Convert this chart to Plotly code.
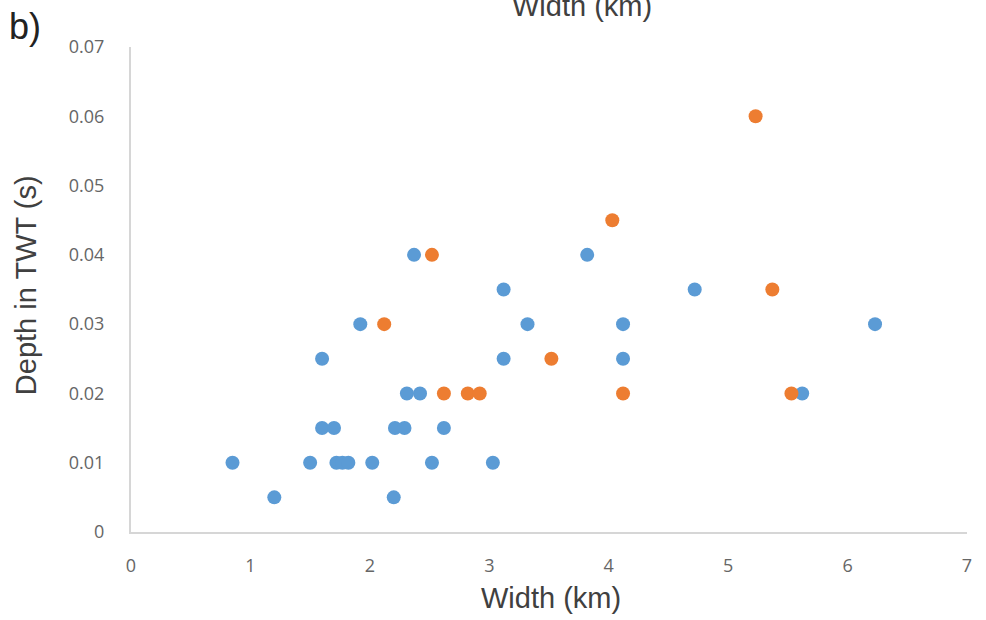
import plotly.graph_objects as go

# Blue series
blue_x = [0.85, 1.2, 1.5, 1.6, 1.6, 1.7, 1.72, 1.77, 1.82, 1.92, 2.02, 2.2, 2.21, 2.29, 2.31,
          2.37, 2.42, 2.52, 2.62, 3.03, 3.12, 3.12, 3.32, 3.82, 4.12, 4.12, 4.72, 5.62, 6.23]
blue_y = [0.01, 0.005, 0.01, 0.025, 0.015, 0.015, 0.01, 0.01, 0.01, 0.03, 0.01, 0.005, 0.015, 0.015, 0.02,
          0.04, 0.02, 0.01, 0.015, 0.01, 0.035, 0.025, 0.03, 0.04, 0.03, 0.025, 0.035, 0.02, 0.03]

# Orange series
orange_x = [2.12, 2.52, 2.62, 2.82, 2.92, 3.52, 4.03, 4.12, 5.23, 5.37, 5.53]
orange_y = [0.03, 0.04, 0.02, 0.02, 0.02, 0.025, 0.045, 0.02, 0.06, 0.035, 0.02]

x_ticks = [0, 1, 2, 3, 4, 5, 6, 7]
y_ticks = [0, 0.01, 0.02, 0.03, 0.04, 0.05, 0.06, 0.07]
y_labels = ["0", "0.01", "0.02", "0.03", "0.04", "0.05", "0.06", "0.07"]

fig = go.Figure()
fig.add_trace(go.Scatter(x=blue_x, y=blue_y, mode="markers",
                         marker=dict(color="#5B9BD5", size=14), showlegend=False))
fig.add_trace(go.Scatter(x=orange_x, y=orange_y, mode="markers",
                         marker=dict(color="#ED7D31", size=14), showlegend=False))

tickfont = dict(family="Open Sans", size=18, color="#666666")
titlefont = dict(family="Liberation Sans", size=29, color="#404040")
fig.update_layout(
    width=986, height=620,
    margin=dict(l=131, r=19, t=47, b=88),
    paper_bgcolor="white", plot_bgcolor="white",
    font=dict(family="Open Sans"),
    xaxis=dict(range=[0, 7], tickvals=x_ticks, ticktext=[str(v) for v in x_ticks],
               showgrid=False, zeroline=False, showline=True, linecolor="#D6D6D6", linewidth=2,
               tickfont=tickfont, ticks="outside", ticklen=16, tickcolor="rgba(0,0,0,0)"),
    yaxis=dict(range=[0, 0.07], tickvals=y_ticks, ticktext=y_labels,
               showgrid=False, zeroline=False, showline=True, linecolor="#D6D6D6", linewidth=2,
               tickfont=tickfont, ticks="outside", ticklen=21, tickcolor="rgba(0,0,0,0)"),
    annotations=[
        dict(text="b)", x=0, xref="paper", xanchor="left", y=1, yref="paper", yanchor="middle",
             xshift=-124, yshift=21, showarrow=False,
             font=dict(family="Liberation Sans", size=36, color="#222222")),
        dict(text="Width (km)", x=0.5395, xref="paper", xanchor="center", y=1, yref="paper",
             yanchor="middle", yshift=41, showarrow=False, font=titlefont),
        dict(text="Width (km)", x=0.502, xref="paper", xanchor="center", y=0, yref="paper",
             yanchor="middle", yshift=-66, showarrow=False, font=titlefont),
        dict(text="Depth in TWT (s)", x=0, xref="paper", xanchor="center", y=0.509, yref="paper",
             yanchor="middle", xshift=-105, textangle=-90, showarrow=False, font=titlefont),
    ],
)

fig.write_html("out.html")
